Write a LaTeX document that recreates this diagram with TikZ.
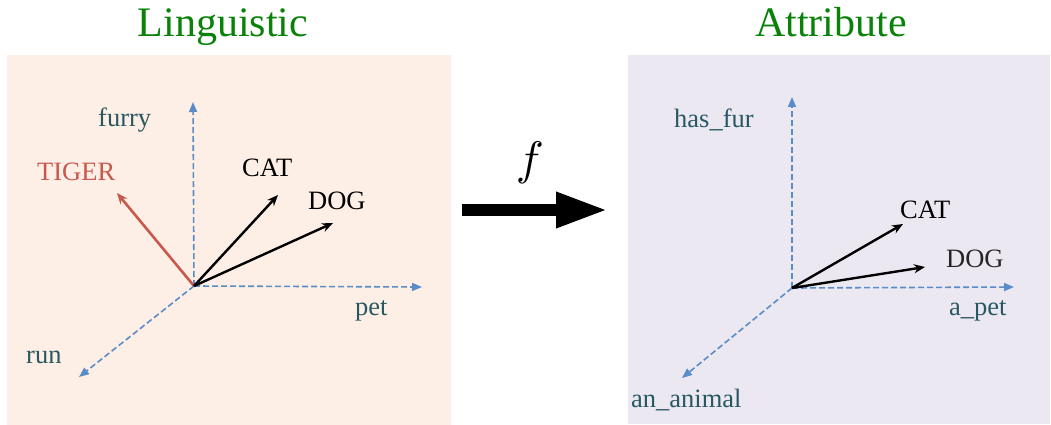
\documentclass[tikz,border=0pt]{standalone}
\usepackage{graphicx}
\usepackage{fontspec}
\setmainfont{Liberation Serif}
\usetikzlibrary{arrows.meta}
\definecolor{titlegreen}{RGB}{10,130,10}
\definecolor{labteal}{RGB}{40,88,98}
\definecolor{tigred}{RGB}{200,88,76}
\definecolor{axblue}{RGB}{90,140,200}
\definecolor{leftbg}{RGB}{253,239,229}
\definecolor{rightbg}{RGB}{236,232,242}
\tikzset{
  axis/.style={axblue, line width=1.6pt, dash pattern=on 6pt off 3pt, -{Triangle[length=10pt,width=8pt]}},
  vec/.style={black, line width=2.4pt, -{Stealth[length=11pt,width=9pt]}},
  tvec/.style={tigred, line width=2.6pt, -{Stealth[length=11pt,width=9pt]}},
  lab/.style={labteal, font=\fontsize{26.5}{30}\selectfont, inner sep=0pt, anchor=base west},
  vlab/.style={black, font=\fontsize{26.5}{30}\selectfont, inner sep=0pt, anchor=base west},
  title/.style={titlegreen, font=\fontsize{42}{48}\selectfont, inner sep=0pt, anchor=base}
}
\begin{document}
\begin{tikzpicture}[x=1pt,y=-1pt]
\useasboundingbox (0,0) rectangle (1051,425);
% panels
\fill[leftbg] (7,55) rectangle (451,425);
\fill[rightbg] (628,55) rectangle (1050,424);
% titles
\node[title] (t1) at (223,37) {Linguistic};
\node[title] (t2) at (831,37) {Attribute};
% left space
\coordinate (O1) at (194,286);
\coordinate (fur) at (193,102);
\coordinate (petx) at (422,287);
\coordinate (runx) at (79,377);
\coordinate (tig) at (117,193);
\coordinate (cat1) at (278,195);
\coordinate (dog1) at (333,223);
\draw[axis] (O1) -- (fur);
\draw[axis] (O1) -- (petx);
\draw[axis] (O1) -- (runx);
\draw[tvec] (O1) -- (tig);
\draw[vec] (O1) -- (cat1);
\draw[vec] (O1) -- (dog1);
\node[lab] (lfurry) at (98,126) {furry};
\node[lab, text=tigred] (ltiger) at (37,180) {TIGER};
\node[vlab] (lcat1) at (242,176) {CAT};
\node[vlab] (ldog1) at (308,209) {DOG};
\node[lab] (lpet) at (355,315) {pet};
\node[lab] (lrun) at (26,363) {run};
% mapping arrow
\coordinate (fa) at (462,210);
\coordinate (fb) at (608,210);
\draw[black, line width=12pt, -{Triangle[length=52pt,width=33pt]}] (fa) -- (fb);
\node[inner sep=0pt] (fl) at (530,163) {\scalebox{4.7}{$f$}};
% right space
\coordinate (O2) at (792,288);
\coordinate (hasfur) at (792,97);
\coordinate (apet) at (1014,287);
\coordinate (anim) at (682,378);
\coordinate (cat2) at (903,224);
\coordinate (dog2) at (925,267);
\draw[axis] (O2) -- (hasfur);
\draw[axis] (O2) -- (apet);
\draw[axis] (O2) -- (anim);
\draw[vec] (O2) -- (cat2);
\draw[vec] (O2) -- (dog2);
\node[lab] (lhas) at (674,128) {has\_fur};
\node[vlab] (lcat2) at (900,218) {CAT};
\node[vlab, text=black!85] (ldog2) at (946,267) {DOG};
\node[lab] (lapet) at (949,315) {a\_pet};
\node[lab] (lanim) at (631,407) {an\_animal};
\end{tikzpicture}
\end{document}
